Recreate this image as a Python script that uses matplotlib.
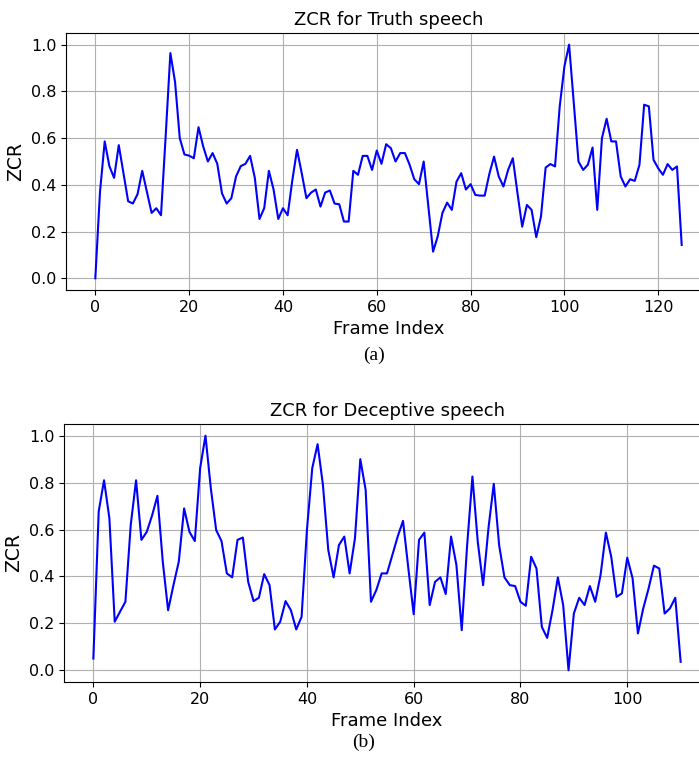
import numpy as np
import matplotlib
matplotlib.use('Agg')
import matplotlib.pyplot as plt

# ZCR per frame
truth_zcr = [0.0, 0.37, 0.586, 0.48, 0.43, 0.57, 0.45, 0.33, 0.32, 0.36,
             0.46, 0.37, 0.28, 0.30, 0.27, 0.61, 0.964, 0.84, 0.60, 0.53,
             0.525, 0.514, 0.647, 0.564, 0.50, 0.536, 0.49, 0.364, 0.32, 0.343,
             0.436, 0.48, 0.49, 0.524, 0.43, 0.254, 0.30, 0.46, 0.38, 0.254,
             0.30, 0.27, 0.42, 0.55, 0.45, 0.343, 0.367, 0.38, 0.307, 0.367,
             0.376, 0.32, 0.317, 0.243, 0.243, 0.46, 0.443, 0.524, 0.524, 0.464,
             0.547, 0.49, 0.574, 0.557, 0.50, 0.536, 0.536, 0.486, 0.424, 0.403,
             0.50, 0.307, 0.114, 0.18, 0.28, 0.324, 0.293, 0.414, 0.45, 0.38,
             0.403, 0.357, 0.354, 0.354, 0.447, 0.521, 0.436, 0.393, 0.464, 0.514,
             0.364, 0.221, 0.314, 0.293, 0.176, 0.264, 0.474, 0.489, 0.479, 0.736,
             0.907, 1.0, 0.75, 0.50, 0.464, 0.486, 0.56, 0.293, 0.60, 0.683,
             0.586, 0.586, 0.436, 0.393, 0.424, 0.417, 0.486, 0.743, 0.736, 0.507,
             0.471, 0.443, 0.489, 0.464, 0.479, 0.143]

deceptive_zcr = [0.05, 0.677, 0.81, 0.648, 0.207, 0.25, 0.292, 0.62, 0.81, 0.556,
                 0.59, 0.66, 0.744, 0.463, 0.256, 0.363, 0.463, 0.69, 0.59, 0.551,
                 0.862, 1.0, 0.776, 0.598, 0.551, 0.413, 0.396, 0.556, 0.566, 0.377,
                 0.295, 0.309, 0.41, 0.363, 0.174, 0.207, 0.295, 0.256, 0.174, 0.228,
                 0.598, 0.862, 0.964, 0.79, 0.513, 0.396, 0.534, 0.57, 0.413, 0.563,
                 0.90, 0.769, 0.292, 0.342, 0.413, 0.413, 0.491, 0.57, 0.637, 0.434,
                 0.239, 0.556, 0.587, 0.278, 0.377, 0.396, 0.325, 0.57, 0.449, 0.171,
                 0.53, 0.826, 0.548, 0.363, 0.605, 0.795, 0.534, 0.396, 0.363, 0.359,
                 0.292, 0.275, 0.484, 0.434, 0.185, 0.138, 0.256, 0.396, 0.278, 0.0,
                 0.242, 0.309, 0.278, 0.359, 0.292, 0.406, 0.587, 0.484, 0.313, 0.328,
                 0.48, 0.392, 0.157, 0.264, 0.349, 0.446, 0.434, 0.242, 0.264, 0.309,
                 0.036]

titles = ['ZCR for Truth speech', 'ZCR for Deceptive speech']
captions = ['(a)', '(b)']

W, H = 699, 762
fig = plt.figure(figsize=(W / 100, H / 100), dpi=100)

# axes boxes in pixels: left, top, right, bottom (right side runs past the crop)
boxes = [(66, 33, 711, 290), (64, 424, 710, 682)]
caption_pos = [(374, 355), (364, 742)]

for data, title, cap, (l, t, r, b), (cx, cy) in zip(
        [truth_zcr, deceptive_zcr], titles, captions, boxes, caption_pos):
    ax = fig.add_axes([l / W, 1 - b / H, (r - l) / W, (b - t) / H])
    ax.plot(np.arange(len(data)), data, color='blue', linewidth=1.5)
    ax.set_title(title, fontsize=13)
    ax.set_xlabel('Frame Index', fontsize=13)
    ax.set_ylabel('ZCR', fontsize=13.5)
    ax.tick_params(labelsize=11.5)
    ax.set_yticks([0.0, 0.2, 0.4, 0.6, 0.8, 1.0])
    ax.grid(True, color='#b0b0b0', linewidth=0.8)
    fig.text(cx / W, 1 - cy / H, cap, ha='center', va='center',
             family='Liberation Serif', fontsize=14)

fig.savefig('out.png', dpi=100)
